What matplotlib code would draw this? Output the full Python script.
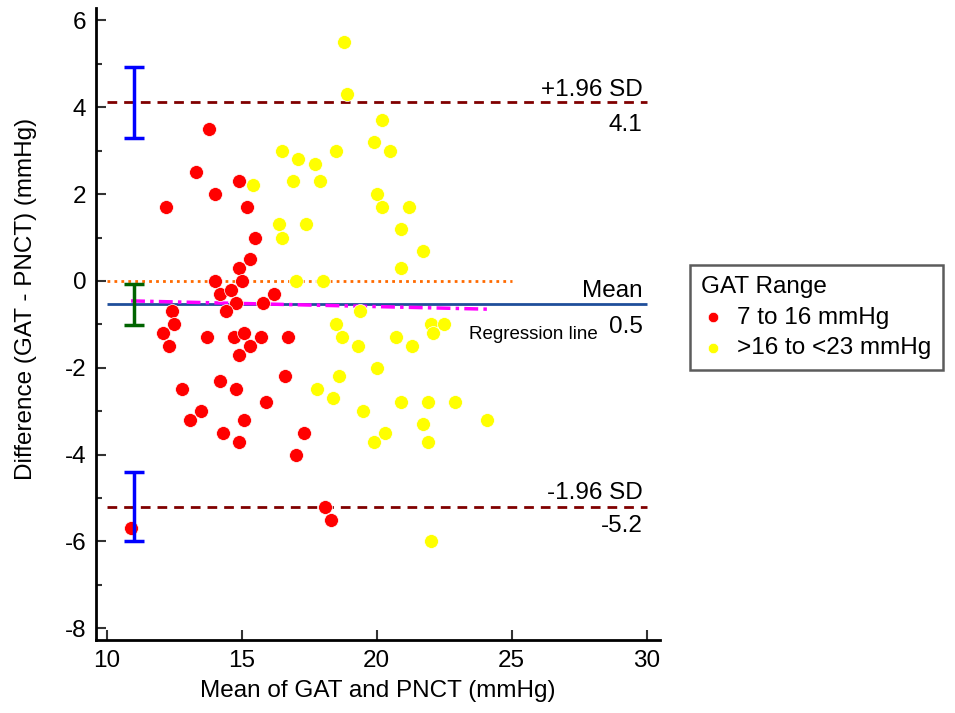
import numpy as np
import matplotlib.pyplot as plt

plt.rcParams['font.family'] = ['Liberation Sans', 'DejaVu Sans']
plt.rcParams['axes.unicode_minus'] = False

# Bland-Altman data
# GAT 7 to 16 mmHg group (red)
red_mean = [13.8, 13.3, 14.9, 14.0, 12.2, 15.2, 15.5, 15.3, 14.9, 14.0,
            15.0, 14.2, 14.6, 14.8, 16.2, 15.8, 12.4, 14.4, 12.5, 12.1,
            12.3, 13.7, 14.7, 15.1, 15.3, 15.7, 14.9, 16.7, 16.6, 14.2,
            14.8, 12.8, 15.9, 13.5, 13.1, 15.1, 14.3, 14.9, 17.3, 17.0,
            18.1, 18.3, 10.9]
red_diff = [3.5, 2.5, 2.3, 2.0, 1.7, 1.7, 1.0, 0.5, 0.3, 0.0,
            0.0, -0.3, -0.2, -0.5, -0.3, -0.5, -0.7, -0.7, -1.0, -1.2,
            -1.5, -1.3, -1.3, -1.2, -1.5, -1.3, -1.7, -1.3, -2.2, -2.3,
            -2.5, -2.5, -2.8, -3.0, -3.2, -3.2, -3.5, -3.7, -3.5, -4.0,
            -5.2, -5.5, -5.7]

# GAT >16 to <23 mmHg group (yellow)
yel_mean = [18.8, 18.9, 20.2, 19.9, 20.5, 16.5, 18.5, 17.1, 17.7, 15.4,
            16.9, 17.9, 20.0, 20.2, 21.2, 20.9, 21.7, 20.9, 16.4, 17.4,
            16.5, 17.0, 18.0, 19.4, 18.5, 18.7, 19.3, 20.7, 21.3, 22.0,
            22.5, 22.1, 20.0, 18.6, 17.8, 18.4, 20.9, 21.9, 22.9, 19.5,
            21.7, 24.1, 20.3, 19.9, 21.9, 22.0]
yel_diff = [5.5, 4.3, 3.7, 3.2, 3.0, 3.0, 3.0, 2.8, 2.7, 2.2,
            2.3, 2.3, 2.0, 1.7, 1.7, 1.2, 0.7, 0.3, 1.3, 1.3,
            1.0, 0.0, 0.0, -0.7, -1.0, -1.3, -1.5, -1.3, -1.5, -1.0,
            -1.0, -1.2, -2.0, -2.2, -2.5, -2.7, -2.8, -2.8, -2.8, -3.0,
            -3.3, -3.2, -3.5, -3.7, -3.7, -6.0]

mean_diff = -0.53
upper_loa = 4.13
lower_loa = -5.2
upper_ci = (3.3, 4.92)
mean_ci = (-1.02, -0.07)
lower_ci = (-6.0, -4.4)
reg_x = [10.9, 24.1]
reg_y = [-0.46, -0.65]

fig = plt.figure(figsize=(9.55, 7.13), dpi=100)
ax = fig.add_axes([0.1005, 0.1024, 0.5906, 0.8866])

ax.hlines(0, 10, 25, colors='#ff6a00', linestyles=(0, (1, 1.5)), linewidth=2)
ax.hlines([upper_loa, lower_loa], 10, 30, colors='#800000',
          linestyles=(0, (3.5, 2.5)), linewidth=2)
ax.hlines(mean_diff, 10, 30, colors='#1f4e9a', linewidth=2)
ax.plot(reg_x, reg_y, color='#ff00ff', linestyle=(0, (4, 1.5, 1, 1.5)),
        linewidth=2.5, zorder=2)

ax.scatter(red_mean, red_diff, s=100, c='#ff0000', edgecolors='white',
           linewidths=0.5, zorder=3, label='7 to 16 mmHg')
ax.scatter(yel_mean, yel_diff, s=100, c='#ffff00', edgecolors='white',
           linewidths=0.5, zorder=3, label='>16 to <23 mmHg')

# confidence intervals
for (lo, hi), col in [(upper_ci, '#0000ff'), (mean_ci, '#006400'), (lower_ci, '#0000ff')]:
    ax.errorbar(11, (lo + hi) / 2, yerr=[[(hi - lo) / 2], [(hi - lo) / 2]],
                fmt='none', ecolor=col, elinewidth=2.5, capsize=7,
                capthick=2.5, zorder=4)

lab = dict(ha='right', fontsize=17.5, textcoords='offset points')
ax.annotate('+1.96 SD', (29.85, upper_loa), xytext=(0, 0.5), va='bottom', **lab)
ax.annotate('4.1', (29.85, upper_loa), xytext=(0, -9), va='top', **lab)
ax.annotate('Mean', (29.85, mean_diff), xytext=(0, 1.5), va='bottom', **lab)
ax.annotate('0.5', (29.85, mean_diff), xytext=(0, -9), va='top', **lab)
ax.annotate('-1.96 SD', (29.85, lower_loa), xytext=(0, 2), va='bottom', **lab)
ax.annotate('-5.2', (29.85, lower_loa), xytext=(0, -6), va='top', **lab)
ax.annotate('Regression line', (28.2, mean_diff), xytext=(0, -16), va='top',
            ha='right', fontsize=13.5, textcoords='offset points')

ax.set_xlim(9.6, 30.5)
ax.set_ylim(-8.27, 6.29)
ax.set_xticks([10, 15, 20, 25, 30])
ax.set_yticks(np.arange(-8, 7, 2))
ax.set_yticks(np.arange(-7, 7, 2), minor=True)
ax.tick_params(which='both', direction='in', width=1.5, labelsize=17.5,
               colors='#333333', labelcolor='black')
ax.tick_params(which='major', length=7, pad=7)
ax.tick_params(which='minor', length=4)
ax.tick_params(axis='x', which='minor', bottom=False)
for s in ['top', 'right']:
    ax.spines[s].set_visible(False)
for s in ['left', 'bottom']:
    ax.spines[s].set_linewidth(2)
ax.set_xlabel('Mean of GAT and PNCT (mmHg)', fontsize=17.5, labelpad=6)
ax.set_ylabel('Difference (GAT - PNCT) (mmHg)', fontsize=17.5)
ax.yaxis.set_label_coords(-0.105, 0.54)

leg = fig.legend(loc='upper left', bbox_to_anchor=(0.7225, 0.628),
                 borderaxespad=0, title='GAT Range', fontsize=17.5,
                 title_fontsize=17.5, frameon=True, fancybox=False,
                 edgecolor='#333333', markerscale=0.75, handletextpad=0.5,
                 borderpad=0.45, labelspacing=0.35, handlelength=1.0,
                 alignment='left')
leg.get_frame().set_linewidth(1.8)

fig.savefig('out.png', dpi=100)
